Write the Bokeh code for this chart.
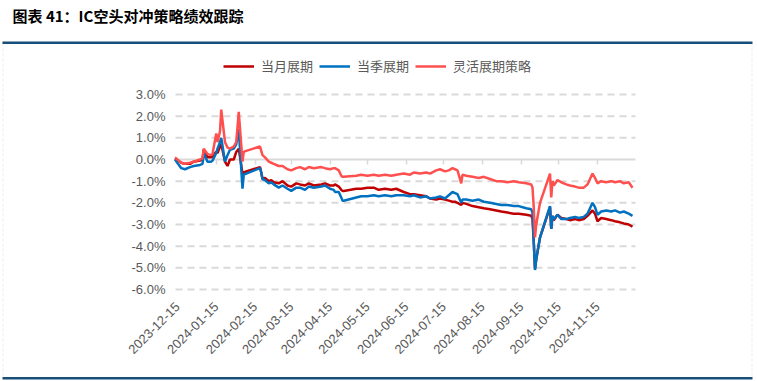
import pandas as pd
from math import pi
from bokeh.plotting import figure
from bokeh.models import (Range1d, FixedTicker, PrintfTickFormatter, DatetimeTickFormatter,
                          DatetimeAxis, CustomJSTickFormatter, Legend, LegendItem, Label,
                          BoxAnnotation, ColumnDataSource)
from bokeh.embed import file_html
from bokeh.resources import INLINE

title_text = "图表 41：IC空头对冲策略绩效跟踪"
series_names = ["当月展期", "当季展期", "灵活展期策略"]

dates = [
    "2023-12-13", "2023-12-18", "2023-12-21", "2023-12-25", "2023-12-28",
    "2024-01-02", "2024-01-04", "2024-01-05", "2024-01-08", "2024-01-11",
    "2024-01-12", "2024-01-15", "2024-01-16", "2024-01-18", "2024-01-19",
    "2024-01-22", "2024-01-24", "2024-01-26", "2024-01-29", "2024-01-31",
    "2024-02-02", "2024-02-05", "2024-02-06", "2024-02-08", "2024-02-19",
    "2024-02-20", "2024-02-21", "2024-02-23", "2024-02-26", "2024-02-28",
    "2024-03-01", "2024-03-05", "2024-03-08", "2024-03-12", "2024-03-15",
    "2024-03-19", "2024-03-22", "2024-03-26", "2024-03-29", "2024-04-02",
    "2024-04-08", "2024-04-11", "2024-04-15", "2024-04-18", "2024-04-19",
    "2024-04-22", "2024-04-24", "2024-04-25", "2024-04-26", "2024-05-06",
    "2024-05-10", "2024-05-15", "2024-05-20", "2024-05-24", "2024-05-29",
    "2024-06-03", "2024-06-07", "2024-06-13", "2024-06-18", "2024-06-21",
    "2024-06-26", "2024-07-01", "2024-07-04", "2024-07-09", "2024-07-12",
    "2024-07-16", "2024-07-19", "2024-07-22", "2024-07-24", "2024-07-26",
    "2024-07-29", "2024-07-30", "2024-08-02", "2024-08-07", "2024-08-12",
    "2024-08-16", "2024-08-21", "2024-08-26", "2024-08-30", "2024-09-04",
    "2024-09-09", "2024-09-13", "2024-09-19", "2024-09-23", "2024-09-24",
    "2024-09-25", "2024-09-26", "2024-09-27", "2024-09-30", "2024-10-08",
    "2024-10-09", "2024-10-10", "2024-10-11", "2024-10-14", "2024-10-17",
    "2024-10-21", "2024-10-24", "2024-10-28", "2024-10-31", "2024-11-04",
    "2024-11-07", "2024-11-11", "2024-11-13", "2024-11-15", "2024-11-18",
    "2024-11-22", "2024-11-26", "2024-11-29", "2024-12-03", "2024-12-06",
    "2024-12-10", "2024-12-13",
]

monthly = [
    0.05, -0.15, -0.2, -0.2, -0.1,
    -0.05, 0.0, 0.45, 0.1, 0.1,
    0.15, 0.35, 0.3, 0.6, 0.7,
    -0.1, -0.3, 0.0, 0.0, 0.35,
    0.5, -0.65, -0.6, -0.55, -0.35,
    -0.6, -0.9, -0.85, -1.0, -0.95,
    -1.05, -1.1, -1.0, -1.2, -1.25,
    -1.1, -1.15, -1.2, -1.1, -1.2,
    -1.15, -1.1, -1.2, -1.2, -1.15,
    -1.25, -1.4, -1.45, -1.45, -1.35,
    -1.35, -1.3, -1.3, -1.4, -1.35,
    -1.4, -1.35, -1.5, -1.6, -1.6,
    -1.65, -1.7, -1.8, -1.85, -1.8,
    -1.85, -1.9, -1.95, -1.95, -2.0,
    -2.1, -2.0, -2.05, -2.15, -2.2,
    -2.25, -2.3, -2.35, -2.4, -2.45,
    -2.5, -2.5, -2.55, -2.6, -2.75,
    -3.8, -5.05, -4.6, -3.6, -2.2,
    -3.2, -2.6, -2.8, -2.55, -2.7,
    -2.75, -2.8, -2.75, -2.8, -2.75,
    -2.6, -2.35, -2.5, -2.85, -2.7,
    -2.75, -2.8, -2.85, -2.9, -2.95,
    -3.0, -3.1,
]

quarterly = [
    0.0, -0.4, -0.45, -0.35, -0.3,
    -0.25, -0.2, 0.3, -0.1, -0.1,
    -0.05, 0.3, 0.5, 0.8, 1.0,
    -0.1, 0.2, 0.45, 0.5, 0.7,
    1.4, -1.35, -0.7, -0.65, -0.4,
    -0.6, -0.9, -0.95, -1.1, -1.05,
    -1.15, -1.3, -1.2, -1.35, -1.45,
    -1.3, -1.3, -1.4, -1.25, -1.3,
    -1.25, -1.2, -1.35, -1.4, -1.5,
    -1.5, -1.75, -1.9, -1.9, -1.75,
    -1.7, -1.7, -1.65, -1.7, -1.65,
    -1.7, -1.65, -1.65, -1.7, -1.65,
    -1.75, -1.7, -1.8, -1.75, -1.7,
    -1.8, -1.65, -1.5, -1.55, -1.6,
    -2.0, -1.85, -1.85, -1.9, -1.85,
    -1.95, -2.0, -2.05, -2.1, -2.1,
    -2.15, -2.15, -2.25, -2.3, -2.45,
    -3.8, -5.1, -4.6, -3.6, -2.15,
    -3.2, -2.6, -2.75, -2.55, -2.75,
    -2.75, -2.7, -2.65, -2.7, -2.65,
    -2.5, -2.0, -2.2, -2.55, -2.4,
    -2.35, -2.4, -2.35, -2.45, -2.4,
    -2.5, -2.6,
]

flexible = [
    0.1, -0.15, -0.2, -0.15, -0.1,
    0.0, 0.05, 0.5, 0.25, 0.2,
    0.25, 1.2, 0.8, 1.3, 2.3,
    0.8, 0.55, 0.5, 0.6, 0.8,
    2.2, -0.1, 0.35, 0.4, 0.6,
    0.4, 0.2, 0.1, -0.1, -0.15,
    -0.2, -0.3, -0.3, -0.45, -0.5,
    -0.4, -0.35, -0.45, -0.35, -0.4,
    -0.35, -0.4, -0.45, -0.4, -0.4,
    -0.5, -0.75, -0.8, -0.8, -0.75,
    -0.7, -0.75, -0.7, -0.75, -0.7,
    -0.75, -0.7, -0.65, -0.7, -0.6,
    -0.65, -0.6, -0.65, -0.5, -0.45,
    -0.55, -0.5, -0.4, -0.45, -0.5,
    -1.1, -0.7, -0.75, -0.8, -0.85,
    -0.8, -0.9, -1.0, -1.0, -1.05,
    -1.0, -1.05, -1.1, -1.15, -1.3,
    -2.2, -3.6, -3.0, -2.0, -0.65,
    -1.75, -1.0, -1.2, -0.95, -1.05,
    -1.15, -1.2, -1.25, -1.3, -1.3,
    -1.15, -0.65, -0.85, -1.1, -1.0,
    -1.05, -1.0, -1.05, -1.0, -1.1,
    -1.05, -1.3,
]

tick_dates = ["2023-12-15", "2024-01-15", "2024-02-15", "2024-03-15", "2024-04-15",
              "2024-05-15", "2024-06-15", "2024-07-15", "2024-08-15", "2024-09-15",
              "2024-10-15", "2024-11-15"]
y_ticks = [3, 2, 1, 0, -1, -2, -3, -4, -5, -6]
y_min, y_max = -6, 3

colors = ["#C00000", "#0070C0", "#FF5050"]

# ---------------- layout (canvas pixels, origin top-left) ----------------
W, H = 757, 381
PX_LEFT, PX_RIGHT = 175, 635          # plot-area left / right
PX_TOP, PX_BOTTOM = 94, 289           # y of y_max / y_min
ANCHOR_PX = 177                       # x of first tick date
PX_PER_DAY = 1.25

anchor = pd.Timestamp(tick_dates[0])
def px_to_time(px):
    return anchor + pd.Timedelta(days=(px - ANCHOR_PX) / PX_PER_DAY)
def ms(t):
    return t.value // 10**6

ppu = (PX_BOTTOM - PX_TOP) / (y_max - y_min)
y_lo = y_min - (H - PX_BOTTOM) / ppu
y_hi = y_max + PX_TOP / ppu

x_lo_ms, x_hi_ms = ms(px_to_time(PX_LEFT)), ms(px_to_time(PX_RIGHT))

src = ColumnDataSource(dict(date=pd.to_datetime(dates), m=monthly, q=quarterly, f=flexible))

p = figure(width=W, height=H, x_axis_type="datetime", output_backend="svg",
           toolbar_location=None,
           x_range=Range1d(px_to_time(0), px_to_time(W)),
           y_range=Range1d(y_lo, y_hi),
           min_border=0, min_border_left=0, min_border_right=0,
           min_border_top=0, min_border_bottom=0)
p.outline_line_color = None
p.background_fill_color = "white"
p.border_fill_color = "white"
p.xgrid.grid_line_color = None
p.ygrid.grid_line_color = None

# y axis, drawn inside the canvas at the plot-area left edge
yax = p.yaxis[0]
yax.fixed_location = x_lo_ms
yax.ticker = FixedTicker(ticks=y_ticks)
yax.formatter = PrintfTickFormatter(format="%.1f%%")
yax.axis_line_color = None
yax.major_tick_line_color = None
yax.minor_tick_line_color = None
yax.major_tick_out = 0
yax.major_tick_in = 0
yax.major_label_standoff = 10
yax.major_label_text_font = "Liberation Sans"
yax.major_label_text_font_size = "13px"
yax.major_label_text_color = "#595959"

# x axis labels at the bottom of the plot area
tick_ms = [ms(pd.Timestamp(d)) for d in tick_dates]
xax = p.xaxis[0]
xax.fixed_location = y_min
xax.ticker = FixedTicker(ticks=tick_ms)
fmt = "%Y-%m-%d"
xax.formatter = DatetimeTickFormatter(days=fmt, months=fmt, years=fmt, hours=fmt,
                                      hourmin=fmt, minutes=fmt, strip_leading_zeros=False)
xax.major_label_orientation = pi / 4
xax.axis_line_color = None
xax.major_tick_line_color = None
xax.minor_tick_line_color = None
xax.major_tick_out = 0
xax.major_tick_in = 0
xax.major_label_standoff = 15
xax.major_label_text_font = "Liberation Sans"
xax.major_label_text_font_size = "13px"
xax.major_label_text_color = "#595959"

# dashed horizontal grid lines limited to the plot area
grid_levels = [t for t in y_ticks if t != 0]
p.segment(x0=[x_lo_ms] * len(grid_levels), y0=grid_levels,
          x1=[x_hi_ms] * len(grid_levels), y1=grid_levels,
          line_color="#d9d9d9", line_width=2, line_dash="7 5")

# horizontal axis line at 0 with tick marks (beneath the series)
zero_axis = DatetimeAxis(fixed_location=0, ticker=FixedTicker(ticks=tick_ms),
                         formatter=CustomJSTickFormatter(code="return ''"),
                         bounds=(x_lo_ms, x_hi_ms), level="underlay",
                         axis_line_color="#d9d9d9", axis_line_width=2,
                         major_tick_line_color="#d9d9d9", major_tick_line_width=1.5,
                         major_tick_in=0, major_tick_out=5,
                         minor_tick_line_color=None)
p.add_layout(zero_axis, "below")

r1 = p.line("date", "m", source=src, line_color=colors[0], line_width=2.5)
r2 = p.line("date", "q", source=src, line_color=colors[1], line_width=2.5)
r3 = p.line("date", "f", source=src, line_color=colors[2], line_width=2.5)

legend = Legend(items=[LegendItem(label=series_names[0], renderers=[r1]),
                       LegendItem(label=series_names[1], renderers=[r2]),
                       LegendItem(label=series_names[2], renderers=[r3])],
                orientation="horizontal", location=(223, H - 75),
                background_fill_alpha=0, border_line_color=None,
                padding=0, margin=0, spacing=6, label_standoff=7,
                glyph_width=31, glyph_height=16, label_height=16,
                label_text_font="Noto Sans CJK SC", label_text_font_size="13px",
                label_text_color="#595959")
p.add_layout(legend)

# frame decorations (screen units, measured from canvas bottom-left)
def sy(px):
    return H - px

border = BoxAnnotation(left=2.5, right=751.5, top=sy(42), bottom=sy(377.5),
                       left_units="screen", right_units="screen", top_units="screen",
                       bottom_units="screen", fill_alpha=0, line_color="#c0c0c0",
                       line_width=1, line_dash="3 2")
p.add_layout(border)
for top_px in (41, 376.5):
    bar = BoxAnnotation(left=2, right=752, top=sy(top_px), bottom=sy(top_px + 2.5),
                        left_units="screen", right_units="screen", top_units="screen",
                        bottom_units="screen", fill_color="#174f7c", fill_alpha=1,
                        line_alpha=0)
    p.add_layout(bar)

title = Label(x=12, y=sy(15), x_units="screen", y_units="screen", text=title_text,
              text_font="Noto Sans CJK SC", text_font_style="bold", text_font_size="15px",
              text_color="#000000", text_baseline="middle", text_align="left")
p.add_layout(title)

open("out.html", "w").write(file_html(p, INLINE))
